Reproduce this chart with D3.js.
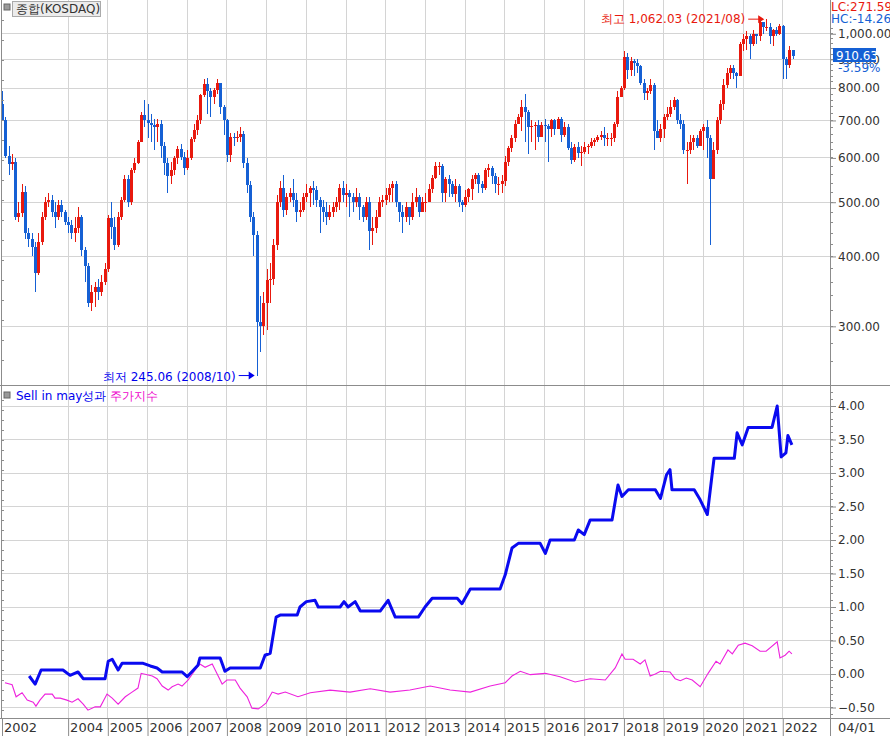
<!DOCTYPE html>
<html><head><meta charset="utf-8">
<script src="https://cdn.jsdelivr.net/npm/d3@7"></script>
<style>body{margin:0;background:#fff}svg{display:block}text{font-family:"DejaVu Sans",sans-serif}</style>
</head><body><svg id="c" width="890" height="736"></svg>
<script>
// Monthly KOSDAQ candles, May 2002 .. Apr 2022
const startYear = 2002, startMonth = 5;
const firstOpen = 750;
const closes = [700,605,585,590,470,478,521,440,
430,415,374,425,470,500,505,480,470,495,480,460,
455,440,450,470,410,385,330,345,352,345,360,380,
468,451,420,470,505,550,500,570,587,640,715,700,
694,688,680,690,629,587,557,570,600,622,603,575,
600,649,674,700,777,813,790,770,793,815,740,700,
606,655,650,655,662,587,537,470,437,305,300,330,
363,365,420,500,530,485,510,520,505,480,485,510,
520,530,525,505,490,480,470,480,490,500,530,515,
520,510,500,510,490,470,500,445,450,470,500,505,
515,530,540,500,480,470,490,470,500,510,480,500,
500,527,553,580,580,520,550,540,517,535,500,495,
510,527,550,560,538,530,570,575,557,540,540,545,
590,626,650,690,710,740,726,680,685,686,654,686,
685,675,700,675,704,660,680,626,595,628,612,615,
628,630,640,645,655,660,650,650,650,690,772,800,
908,863,893,886,875,817,783,790,810,670,650,676,
710,720,740,760,700,690,620,620,640,650,630,670,
680,650,550,620,700,750,810,850,870,850,840,960,
980,990,960,1000,990,1050,1030,1030,990,1015,1000,1033,
900,878,934,911];
const highs = [790,710,630,610,600,500,540,535,
450,440,425,440,480,510,520,515,500,505,505,485,
470,465,470,490,475,415,390,355,360,365,370,390,
475,500,470,480,510,560,560,575,600,645,725,760,
750,720,705,705,700,640,600,590,605,630,635,615,
620,655,690,715,780,830,835,800,800,830,815,745,
705,665,665,670,680,670,600,545,480,445,340,345,
380,390,430,515,545,560,520,530,550,520,500,520,
540,535,545,535,510,505,500,495,500,510,540,545,
540,525,520,530,520,495,510,510,470,485,510,515,
530,540,545,545,500,495,500,490,520,530,515,510,
520,540,560,590,590,585,555,560,545,550,540,505,
525,530,560,565,565,545,575,585,580,565,555,560,
605,630,660,700,720,760,780,730,700,695,700,695,
705,690,705,705,710,710,695,690,640,635,640,630,
640,635,650,650,660,670,680,665,665,695,790,805,
930,925,910,900,900,880,830,800,830,815,700,690,
720,740,760,770,765,720,700,640,660,660,660,675,
690,700,660,640,710,760,830,870,880,880,855,965,
1000,1010,1000,1015,1000,1055,1050,1062,1045,1020,1030,1040,
1035,910,950,935];
const lows = [700,600,560,570,465,460,470,430,
415,400,345,370,420,465,490,470,450,465,470,455,
440,430,425,440,400,360,325,320,325,335,340,355,
375,430,410,415,465,500,490,495,565,585,640,680,
650,640,620,640,600,560,520,540,560,585,595,560,
570,595,640,660,690,770,720,710,750,780,720,660,
590,590,630,640,640,575,520,460,400,245,270,290,
295,330,355,410,490,470,475,500,490,460,470,480,
500,490,495,490,440,460,455,465,470,480,485,500,
490,470,480,490,465,460,465,410,420,440,470,490,
495,500,500,490,460,440,460,455,465,490,470,480,
480,500,520,550,560,500,500,510,510,500,490,480,
490,500,505,540,520,520,525,555,540,520,515,520,
535,580,615,640,690,670,640,610,640,620,640,655,
640,590,655,660,680,640,655,620,585,590,600,580,
610,610,625,630,640,645,630,630,630,640,680,770,
795,830,840,840,850,810,760,760,780,620,650,640,
650,700,710,730,690,675,610,540,610,620,625,640,
620,600,420,560,610,690,730,800,830,830,800,840,
930,935,900,950,960,970,1000,1010,960,950,990,995,
830,830,870,900];

// Sell in May strategy (decimal year, value)
const stratT = [2003.02,2003.17,2003.32,2003.87,2004.05,2004.25,2004.38,2004.93,2005.01,2005.11,2005.26,2005.36,2005.89,2006.07,2006.24,2006.37,2006.87,2007.0,2007.27,2007.32,2007.83,2007.95,2008.08,2008.84,2008.96,2009.09,2009.24,2009.34,2009.77,2009.84,2010.0,2010.22,2010.3,2010.85,2010.95,2011.05,2011.23,2011.36,2011.86,2012.06,2012.24,2012.82,2012.99,2013.17,2013.8,2013.92,2014.13,2014.88,2015.01,2015.18,2015.34,2015.89,2016.02,2016.14,2016.75,2016.85,2017.0,2017.15,2017.7,2017.85,2017.95,2018.11,2018.79,2018.92,2019.07,2019.16,2019.21,2019.77,2019.92,2020.1,2020.27,2020.78,2020.85,2020.98,2021.13,2021.73,2021.86,2021.96,2022.08,2022.13,2022.23];
const stratV = [-0.03,-0.15,0.06,0.06,-0.02,0.03,-0.07,-0.07,0.19,0.22,0.06,0.16,0.16,0.12,0.09,0.03,0.03,-0.04,0.13,0.24,0.24,0.04,0.09,0.09,0.28,0.31,0.85,0.88,0.88,1.0,1.08,1.1,1.0,1.0,1.08,1.0,1.08,0.94,0.94,1.1,0.85,0.85,1.0,1.13,1.13,1.05,1.27,1.27,1.48,1.88,1.95,1.95,1.8,2.0,2.0,2.15,2.08,2.3,2.3,2.82,2.65,2.75,2.75,2.62,2.97,3.05,2.75,2.75,2.6,2.38,3.22,3.22,3.6,3.42,3.68,3.68,4.0,3.24,3.3,3.56,3.42];

// Index return (decimal year, value)
const idxT = [2002.41,2002.59,2002.69,2002.84,2002.97,2003.12,2003.19,2003.29,2003.42,2003.6,2003.67,2003.8,2003.97,2004.1,2004.25,2004.38,2004.5,2004.68,2004.81,2004.98,2005.11,2005.26,2005.44,2005.61,2005.76,2005.84,2005.99,2006.12,2006.24,2006.37,2006.52,2006.62,2006.77,2006.87,2007.02,2007.2,2007.32,2007.45,2007.63,2007.73,2007.88,2008.0,2008.21,2008.33,2008.51,2008.63,2008.79,2008.89,2008.99,2009.14,2009.29,2009.47,2009.79,2010.1,2010.6,2011.1,2011.61,2012.11,2012.61,2013.12,2013.62,2014.13,2014.63,2015.01,2015.18,2015.39,2015.64,2016.02,2016.39,2016.77,2017.15,2017.53,2017.78,2017.95,2018.03,2018.23,2018.41,2018.53,2018.66,2018.79,2018.92,2019.16,2019.29,2019.42,2019.57,2019.72,2019.92,2020.12,2020.32,2020.42,2020.62,2020.73,2020.88,2021.05,2021.23,2021.43,2021.58,2021.86,2021.93,2022.06,2022.16,2022.23];
const idxV = [-0.13,-0.16,-0.34,-0.28,-0.39,-0.42,-0.48,-0.39,-0.3,-0.3,-0.36,-0.36,-0.39,-0.42,-0.37,-0.45,-0.54,-0.49,-0.49,-0.3,-0.36,-0.45,-0.34,-0.27,-0.21,0.01,-0.01,-0.03,-0.07,-0.18,-0.24,-0.19,-0.15,-0.18,-0.09,0.06,0.15,0.1,0.15,0.03,-0.15,-0.09,-0.09,-0.21,-0.34,-0.51,-0.52,-0.48,-0.43,-0.27,-0.3,-0.27,-0.34,-0.28,-0.24,-0.27,-0.22,-0.27,-0.24,-0.18,-0.24,-0.27,-0.18,-0.13,-0.03,0.04,-0.01,0.01,-0.04,-0.12,-0.07,-0.09,0.09,0.3,0.22,0.22,0.15,0.21,-0.03,0,0.04,0.03,-0.07,-0.1,-0.06,-0.09,-0.19,0.01,0.19,0.15,0.36,0.3,0.43,0.46,0.42,0.34,0.34,0.48,0.24,0.28,0.34,0.3];

const yearLabels = [2002,2004,2005,2006,2007,2008,2009,2010,2011,2012,2013,2014,2015,2016,2017,2018,2019,2020,2021,2022];
const priceTicks = [300,400,500,600,700,800,900,1000];
const priceGrid = [300,400,500,600,700,800,900,1000];
const retTicks = [-0.5,0,0.5,1,1.5,2,2.5,3,3.5,4];

const RED="#e8190e", BLUE="#1560d4", GRID="#d4d4d4", AX="#8c8c8c", TXT="#333";
const svg=d3.select("#c");
const x=d3.scaleLinear().domain([2002.36,2023.19]).range([3,830]);
// log price scale calibrated so 800 -> y 88 and ~243 px per ln unit
const yP=d3.scaleLog().domain([Math.exp(Math.log(800)+88/243), Math.exp(Math.log(800)-(385-88)/243)]).range([0,385]);
const yR=d3.scaleLinear().domain([(674-718)/67,(674-386)/67]).range([718,386]);

const tm=i=>startYear+(startMonth-1+i)/12;
const opens=closes.map((c,i)=>i?closes[i-1]:firstOpen);

// gridlines
const gl=svg.append("g").attr("stroke",GRID).attr("shape-rendering","crispEdges");
yearLabels.slice(1).forEach(yv=>gl.append("line").attr("x1",x(yv)).attr("x2",x(yv)).attr("y1",0).attr("y2",718));
priceGrid.forEach(p=>gl.append("line").attr("x1",2).attr("x2",830).attr("y1",yP(p)).attr("y2",yP(p)));
retTicks.forEach(v=>gl.append("line").attr("x1",2).attr("x2",830).attr("y1",yR(v)).attr("y2",yR(v)));

// candles
const cg=svg.append("g").attr("shape-rendering","crispEdges");
closes.forEach((c,i)=>{
  const o=opens[i], up=c>=o, col=up?RED:BLUE, cx=Math.round(x(tm(i)));
  cg.append("line").attr("x1",cx+0.5).attr("x2",cx+0.5).attr("y1",yP(highs[i])).attr("y2",yP(lows[i])).attr("stroke",col);
  const y1=yP(Math.max(o,c)), y2=yP(Math.min(o,c));
  cg.append("rect").attr("x",cx-1).attr("width",3).attr("y",y1).attr("height",Math.max(1,y2-y1)).attr("fill",col);
});

// lower panel lines
svg.append("path").datum(idxV).attr("d",d3.line().x((d,i)=>x(idxT[i])).y(d=>yR(d))).attr("fill","none").attr("stroke","#ee22dd").attr("stroke-width",1.1);
svg.append("path").datum(stratV).attr("d",d3.line().x((d,i)=>x(stratT[i])).y(d=>yR(d))).attr("fill","none").attr("stroke","#0a0af0").attr("stroke-width",3).attr("stroke-linejoin","round");

// frame
const fr=svg.append("g").attr("stroke",AX).attr("shape-rendering","crispEdges");
fr.append("line").attr("x1",830.5).attr("x2",830.5).attr("y1",0).attr("y2",736);
fr.append("line").attr("x1",1.5).attr("x2",1.5).attr("y1",0).attr("y2",718);
fr.append("line").attr("x1",0).attr("x2",890).attr("y1",385.5).attr("y2",385.5);
fr.append("line").attr("x1",0).attr("x2",890).attr("y1",718.5).attr("y2",718.5);

// right axes
const axP=svg.append("g").attr("transform","translate(830,0)").call(d3.axisRight(yP).tickValues(priceTicks).tickSize(6).tickFormat(d=>d3.format(",.2f")(d)));
const axR=svg.append("g").attr("transform","translate(830,0)").call(d3.axisRight(yR).tickValues(retTicks).tickSize(6).tickFormat(d=>d3.format(".2f")(d)));
[axP,axR].forEach(a=>{a.select(".domain").remove();a.selectAll("line").attr("stroke",AX);a.selectAll("text").attr("fill",TXT).attr("font-size",12).attr("x",8);});
// minor ticks
const mt=svg.append("g").attr("stroke",AX).attr("shape-rendering","crispEdges");
d3.range(260,1061,20).forEach(p=>{if(yP(p)>2&&yP(p)<383)mt.append("line").attr("x1",830).attr("x2",833).attr("y1",yP(p)).attr("y2",yP(p));});
d3.range(-0.6,4.31,0.1).forEach(v=>mt.append("line").attr("x1",830).attr("x2",833).attr("y1",yR(v)).attr("y2",yR(v)));
d3.range(20,380,20).forEach(v=>mt.append("line").attr("x1",1).attr("x2",4).attr("y1",v).attr("y2",v));
d3.range(400,718,10).forEach(v=>mt.append("line").attr("x1",1).attr("x2",4).attr("y1",v).attr("y2",v));

// x axis
const xa=svg.append("g");
yearLabels.forEach((yv,i)=>{
  const px=i===0?2:x(yv);
  xa.append("line").attr("x1",px+0.5).attr("x2",px+0.5).attr("y1",718).attr("y2",736).attr("stroke",AX);
  xa.append("text").attr("x",px+2).attr("y",732).attr("font-size",13).attr("fill",TXT).text(yv);
});
xa.append("text").attr("x",838).attr("y",732).attr("font-size",13).attr("fill",TXT).text("04/01");

// titles
svg.append("rect").attr("x",4).attr("y",4).attr("width",6).attr("height",6).attr("fill","#999").attr("stroke","#666");
svg.append("rect").attr("x",12.5).attr("y",1.5).attr("width",88).attr("height",15).attr("fill","#ececec").attr("stroke","#aaa");
svg.append("text").attr("x",16).attr("y",13).attr("font-size",12).attr("font-family","Noto Sans CJK KR").attr("fill",TXT).text("종합(KOSDAQ)");
svg.append("rect").attr("x",4).attr("y",392).attr("width",6).attr("height",6).attr("fill","#999").attr("stroke","#666");
svg.append("text").attr("x",16).attr("y",400).attr("font-size",12).attr("font-family","Noto Sans CJK KR").attr("fill","#0000ee").text("Sell in may성과");
svg.append("text").attr("x",110).attr("y",400).attr("font-size",12).attr("font-family","Noto Sans CJK KR").attr("fill","#ee00cc").text("주가지수");

// top right
svg.append("rect").attr("x",831).attr("y",0).attr("width",59).attr("height",26).attr("fill","#fff");
svg.append("text").attr("x",831).attr("y",11).attr("font-size",12).attr("fill",RED).text("LC:271.59");
svg.append("text").attr("x",831).attr("y",23).attr("font-size",12).attr("fill",BLUE).text("HC:-14.26");
svg.append("rect").attr("x",833).attr("y",48).attr("width",43).attr("height",14).attr("fill",BLUE);
svg.append("text").attr("x",836).attr("y",60).attr("font-size",12).attr("fill","#fff").text("910.63");
svg.append("text").attr("x",838).attr("y",72).attr("font-size",12).attr("fill",BLUE).text("-3.59%");

// annotations
const hiI=highs.indexOf(d3.max(highs)), loI=lows.indexOf(d3.min(lows));
const hx=x(tm(hiI)), hy=yP(highs[hiI]);
svg.append("text").attr("x",hx-21).attr("y",hy+4).attr("text-anchor","end").attr("font-size",12).attr("font-family","Noto Sans CJK KR").attr("fill",RED).text("최고 1,062.03 (2021/08)");
svg.append("line").attr("x1",hx-18).attr("x2",hx-4).attr("y1",hy).attr("y2",hy).attr("stroke",RED);
svg.append("path").attr("d",`M${hx-2},${hy} l-6,-4 v8z`).attr("fill",RED);
const lx=x(tm(loI)), ly=yP(lows[loI]);
svg.append("text").attr("x",lx-21).attr("y",ly+5).attr("text-anchor","end").attr("font-size",12).attr("font-family","Noto Sans CJK KR").attr("fill","#0000ee").text("최저 245.06 (2008/10)");
svg.append("line").attr("x1",lx-18).attr("x2",lx-4).attr("y1",ly).attr("y2",ly).attr("stroke","#0000ee");
svg.append("path").attr("d",`M${lx-2},${ly} l-6,-4 v8z`).attr("fill","#0000ee");
</script></body></html>
